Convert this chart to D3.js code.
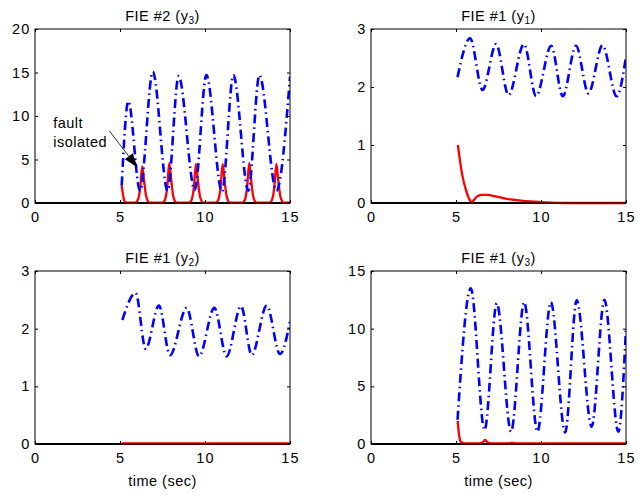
<!DOCTYPE html>
<html>
<head>
<meta charset="utf-8">
<script src="https://cdn.jsdelivr.net/npm/d3@7/dist/d3.min.js"></script>
<style>
  html, body { margin: 0; padding: 0; background: #fff; }
  #chart { width: 640px; height: 496px; }
  text { font-family: 'Liberation Sans', Arial, Helvetica, sans-serif; fill: #000; }
</style>
</head>
<body>
<div id="chart"></div>
<script>
(function () {
  'use strict';

  // values, [time, value]
  var thresholdFie2y3 = [[5.1, 2.0], [5.49, 11.7], [6.18, 1.4], [6.93, 15.1], [7.8, 1.4], [8.45, 14.6],
    [9.4, 1.5], [10.08, 14.7], [11.0, 1.3], [11.67, 14.7], [12.55, 1.4], [13.2, 14.7], [14.2, 1.4], [15.0, 14.5]];
  var residualFie2y3 = [[5.1, 2.0], [5.2, 0.7], [5.3, 0.12], [5.5, 0.03], [5.9, 0.05], [6.05, 0.35], [6.18, 1.6],
    [6.31, 4.2], [6.42, 2.5], [6.55, 0.7], [6.73, 0.05], [7.5, 0.05], [7.64, 0.35], [7.77, 1.7], [7.9, 4.6],
    [8.01, 2.7], [8.14, 0.7], [8.32, 0.05], [9.07, 0.05], [9.21, 0.35], [9.34, 1.7], [9.47, 4.5], [9.58, 2.6],
    [9.71, 0.7], [9.89, 0.05], [10.64, 0.05], [10.78, 0.35], [10.91, 1.7], [11.04, 4.5], [11.15, 2.6],
    [11.28, 0.7], [11.46, 0.05], [12.2, 0.05], [12.34, 0.35], [12.47, 1.7], [12.6, 4.6], [12.71, 2.7],
    [12.84, 0.7], [13.02, 0.05], [13.8, 0.05], [13.94, 0.35], [14.07, 1.7], [14.2, 4.5], [14.31, 2.6],
    [14.44, 0.7], [14.62, 0.05], [15.0, 0.03]];

  var thresholdFie1y1 = [[5.09, 2.17], [5.83, 2.84], [6.56, 1.95], [7.36, 2.74], [8.09, 1.86], [9.0, 2.74],
    [9.71, 1.84], [10.6, 2.71], [11.28, 1.84], [12.06, 2.71], [12.79, 1.89], [13.62, 2.72], [14.45, 1.84], [15.0, 2.52]];
  var residualFie1y1 = [[5.11, 1.0], [5.35, 0.51], [5.64, 0.17], [5.85, 0.03], [5.93, 0.0], [6.0, 0.03],
    [6.22, 0.11], [6.5, 0.14], [6.81, 0.14], [7.4, 0.11], [7.99, 0.07], [8.6, 0.05], [9.17, 0.03],
    [10.3, 0.01], [11.5, 0.0], [15.0, 0.0]];

  var thresholdFie1y2 = [[5.14, 2.15], [5.92, 2.62], [6.51, 1.65], [7.29, 2.4], [7.94, 1.54], [8.92, 2.36],
    [9.65, 1.52], [10.55, 2.36], [11.27, 1.52], [12.12, 2.39], [12.75, 1.54], [13.63, 2.4], [14.41, 1.56], [15.0, 2.12]];
  var residualFie1y2 = [[5.1, 0.01], [15.0, 0.01]];

  var thresholdFie1y3 = [[5.09, 2.1], [5.87, 13.5], [6.68, 1.2], [7.4, 12.2], [8.24, 1.07], [9.01, 12.3],
    [9.79, 1.07], [10.58, 12.3], [11.42, 1.0], [12.1, 12.47], [12.98, 1.5], [13.73, 12.5], [14.55, 1.07], [15.0, 10.0]];
  var residualFie1y3 = [[5.1, 2.0], [5.18, 0.8], [5.28, 0.2], [5.5, 0.05], [6.4, 0.05], [6.6, 0.2], [6.72, 0.35],
    [6.85, 0.15], [7.1, 0.05], [8.1, 0.05], [8.3, 0.12], [8.5, 0.05], [15.0, 0.05]];

  var zeroLine = [[0, 0], [15, 0]];

  var titles = [['FIE #2 (y', '3', ')'], ['FIE #1 (y', '1', ')'], ['FIE #1 (y', '2', ')'], ['FIE #1 (y', '3', ')']];
  var xTicks = [0, 5, 10, 15];
  var yTicksTopLeft = [0, 5, 10, 15, 20];
  var yTicksUnit = [0, 1, 2, 3];
  var yTicksBottomRight = [0, 5, 10, 15];
  var xLabel = 'time (sec)';

  // annotation in panel 1: text lines and arrow in data units
  var noteLines = ['fault', 'isolated'];
  var noteAnchor = [1.07, 8.6];
  var noteArrow = [[4.37, 8.3], [6.02, 4.1]];

  var width = 640;
  var height = 496;
  var fontSize = '14.5px';

  var panels = [
    { left: 35, top: 29, w: 255, h: 174, yMax: 20, yTicks: yTicksTopLeft, thr: thresholdFie2y3, res: residualFie2y3, title: titles[0], xlabel: false, note: true },
    { left: 371, top: 29, w: 255, h: 174, yMax: 3, yTicks: yTicksUnit, thr: thresholdFie1y1, res: residualFie1y1, title: titles[1], xlabel: false },
    { left: 35, top: 271, w: 255, h: 173, yMax: 3, yTicks: yTicksUnit, thr: thresholdFie1y2, res: residualFie1y2, title: titles[2], xlabel: true },
    { left: 371, top: 271, w: 255, h: 173, yMax: 15, yTicks: yTicksBottomRight, thr: thresholdFie1y3, res: residualFie1y3, title: titles[3], xlabel: true }
  ];

  var svg = d3.select('#chart').append('svg')
    .attr('width', width)
    .attr('height', height);

  var defs = svg.append('defs');

  panels.forEach(function (p, i) {
    var x = d3.scaleLinear().domain([0, 15]).range([0, p.w]);
    var y = d3.scaleLinear().domain([0, p.yMax]).range([p.h, 0]);

    var g = svg.append('g').attr('transform', 'translate(' + p.left + ',' + p.top + ')');

    defs.append('clipPath').attr('id', 'clip' + i)
      .append('rect').attr('x', 0).attr('y', -2).attr('width', p.w).attr('height', p.h + 4);

    var line = d3.line()
      .x(function (d) { return x(d[0]); })
      .y(function (d) { return y(d[1]); })
      .curve(d3.curveMonotoneX);

    var plot = g.append('g').attr('clip-path', 'url(#clip' + i + ')');

    plot.append('path').datum(zeroLine)
      .attr('d', line).attr('fill', 'none')
      .attr('stroke', '#000').attr('stroke-width', 2.2);

    plot.append('path').datum(p.res)
      .attr('d', line).attr('fill', 'none')
      .attr('stroke', '#ff0000').attr('stroke-width', 2.3)
      .attr('stroke-linejoin', 'round');

    plot.append('path').datum(p.thr)
      .attr('d', line).attr('fill', 'none')
      .attr('stroke', '#0000ff').attr('stroke-width', 2.6)
      .attr('stroke-dasharray', '9,4,1.5,4');

    // box
    g.append('rect')
      .attr('width', p.w).attr('height', p.h)
      .attr('fill', 'none').attr('stroke', '#000').attr('stroke-width', 1);

    var ax = g.append('g').attr('transform', 'translate(0,' + p.h + ')')
      .call(d3.axisBottom(x).tickValues(xTicks).tickSize(-3).tickPadding(8.5).tickFormat(d3.format('d')));
    g.append('g').call(d3.axisTop(x).tickValues(xTicks).tickSize(-3).tickFormat(''));
    var ay = g.append('g')
      .call(d3.axisLeft(y).tickValues(p.yTicks).tickSize(-3).tickPadding(4.5).tickFormat(d3.format('d')));
    g.append('g').attr('transform', 'translate(' + p.w + ',0)')
      .call(d3.axisRight(y).tickValues(p.yTicks).tickSize(-3).tickFormat(''));

    g.selectAll('.domain').remove();
    g.selectAll('.tick line').attr('stroke', '#000');
    [ax, ay].forEach(function (a) {
      a.selectAll('text')
        .attr('font-size', fontSize)
        .attr('font-family', "'Liberation Sans', Arial, sans-serif")
        .attr('letter-spacing', '1.2px')
        .attr('fill', '#000');
    });

    var t = g.append('text')
      .attr('x', p.w / 2).attr('y', -8)
      .attr('text-anchor', 'middle')
      .attr('font-size', fontSize)
      .attr('letter-spacing', '0.5px');
    t.append('tspan').text(p.title[0]);
    t.append('tspan').attr('font-size', '10px').attr('dy', 3).text(p.title[1]);
    t.append('tspan').attr('dy', -3).text(p.title[2]);

    if (p.xlabel) {
      g.append('text')
        .attr('x', p.w / 2).attr('y', p.h + 42)
        .attr('text-anchor', 'middle')
        .attr('font-size', fontSize)
        .attr('letter-spacing', '0.5px')
        .text(xLabel);
    }

    if (p.note) {
      noteLines.forEach(function (s, k) {
        g.append('text')
          .attr('x', x(noteAnchor[0]))
          .attr('y', y(noteAnchor[1]) + k * 18.5)
          .attr('font-size', fontSize)
          .attr('letter-spacing', '0.5px')
          .text(s);
      });
      var x0 = x(noteArrow[0][0]), y0 = y(noteArrow[0][1]);
      var x1 = x(noteArrow[1][0]), y1 = y(noteArrow[1][1]);
      var ang = Math.atan2(y1 - y0, x1 - x0);
      var len = 14, half = 5;
      var bx = x1 - len * Math.cos(ang), by = y1 - len * Math.sin(ang);
      g.append('line')
        .attr('x1', x0).attr('y1', y0).attr('x2', bx).attr('y2', by)
        .attr('stroke', '#000').attr('stroke-width', 0.8);
      g.append('path')
        .attr('d', 'M' + x1 + ',' + y1 +
          'L' + (bx + half * Math.sin(ang)) + ',' + (by - half * Math.cos(ang)) +
          'L' + (bx - half * Math.sin(ang)) + ',' + (by + half * Math.cos(ang)) + 'Z')
        .attr('fill', '#000');
    }
  });
})();
</script>
</body>
</html>
